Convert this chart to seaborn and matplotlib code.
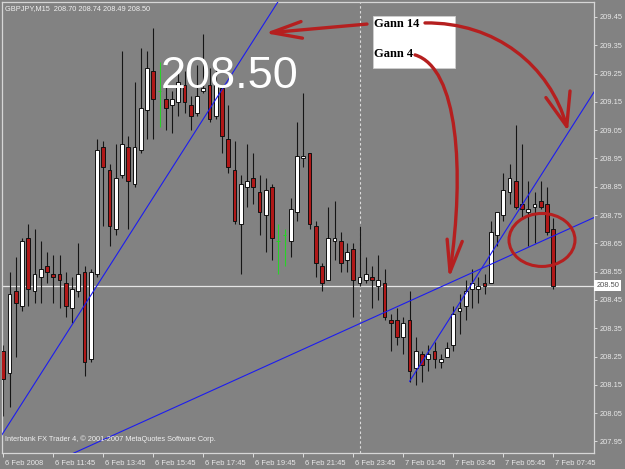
import numpy as np
import pandas as pd
import matplotlib
matplotlib.use("Agg")
import matplotlib.pyplot as plt
import seaborn as sns
from matplotlib.patches import Rectangle, Ellipse, FancyArrowPatch
from matplotlib.path import Path
from matplotlib.transforms import ScaledTranslation, blended_transform_factory

# ---------------- data ----------------
opens = [208.27, 208.19, 208.48, 208.43, 208.67, 208.48, 208.53, 208.57, 208.54, 208.54,
         208.51, 208.42, 208.48, 208.55, 208.24, 208.54, 208.99, 208.91, 208.70, 208.89,
         208.99, 208.86, 208.98, 209.12, 209.26, 209.19, 209.16, 209.14, 209.15, 209.21,
         209.14, 209.11, 209.19, 209.21, 209.10, 209.20, 209.02, 208.91, 208.72, 208.85,
         208.88, 208.83, 208.75, 208.85, 208.66, 208.68, 208.66, 208.76, 208.95, 208.97,
         208.71, 208.57, 208.52, 208.66, 208.66, 208.59, 208.63, 208.51, 208.52, 208.53,
         208.50, 208.51, 208.38, 208.38, 208.32, 208.38, 208.21, 208.26, 208.24, 208.27,
         208.23, 208.25, 208.29, 208.41, 208.43, 208.49, 208.49, 208.51, 208.51, 208.68,
         208.75, 208.83, 208.87, 208.79, 208.76, 208.78, 208.80, 208.79, 208.70]
highs = [208.29, 208.55, 208.60, 208.67, 208.72, 208.70, 208.66, 208.62, 208.61, 208.61,
         208.55, 208.53, 208.65, 208.57, 208.56, 209.02, 209.01, 208.93, 209.00, 209.33,
         209.03, 209.22, 209.34, 209.33, 209.41, 209.29, 209.21, 209.19, 209.26, 209.26,
         209.17, 209.28, 209.39, 209.27, 209.27, 209.21, 209.14, 209.01, 208.89, 209.00,
         208.97, 208.89, 208.88, 208.86, 208.72, 208.70, 208.81, 209.08, 209.18, 208.97,
         208.73, 208.58, 208.78, 208.80, 208.69, 208.65, 208.65, 208.71, 208.60, 208.57,
         208.61, 208.56, 208.40, 208.42, 208.39, 208.48, 208.32, 208.27, 208.29, 208.30,
         208.26, 208.30, 208.43, 208.47, 208.52, 208.56, 208.53, 208.54, 208.73, 208.76,
         208.90, 208.93, 209.07, 209.00, 208.87, 208.83, 208.87, 208.85, 208.74]
lows = [208.04, 208.07, 208.25, 208.41, 208.43, 208.44, 208.44, 208.51, 208.44, 208.42,
        208.39, 208.37, 208.46, 208.18, 208.23, 208.53, 208.71, 208.64, 208.68, 208.88,
        208.70, 208.85, 208.97, 209.02, 209.02, 209.06, 209.05, 209.04, 209.10, 209.11,
        209.05, 209.10, 209.18, 209.08, 209.09, 208.97, 208.90, 208.72, 208.54, 208.78,
        208.79, 208.68, 208.62, 208.59, 208.54, 208.57, 208.60, 208.73, 208.92, 208.70,
        208.53, 208.48, 208.52, 208.59, 208.55, 208.55, 208.39, 208.50, 208.51, 208.42,
        208.45, 208.38, 208.27, 208.29, 208.26, 208.16, 208.15, 208.16, 208.20, 208.21,
        208.21, 208.25, 208.27, 208.33, 208.38, 208.42, 208.44, 208.47, 208.51, 208.64,
        208.73, 208.79, 208.77, 208.74, 208.64, 208.65, 208.77, 208.68, 208.49]
closes = [208.17, 208.47, 208.44, 208.66, 208.49, 208.54, 208.56, 208.55, 208.53, 208.52,
          208.43, 208.49, 208.54, 208.23, 208.55, 208.98, 208.92, 208.71, 208.88, 209.00,
          208.87, 208.99, 209.13, 209.27, 209.16, 209.19, 209.13, 209.16, 209.22, 209.15,
          209.10, 209.17, 209.20, 209.09, 209.21, 209.03, 208.92, 208.73, 208.86, 208.87,
          208.85, 208.76, 208.84, 208.67, 208.66, 208.68, 208.77, 208.96, 208.96, 208.72,
          208.58, 208.51, 208.67, 208.67, 208.58, 208.62, 208.52, 208.53, 208.54, 208.52,
          208.52, 208.39, 208.37, 208.32, 208.37, 208.20, 208.27, 208.22, 208.26, 208.24,
          208.24, 208.28, 208.40, 208.42, 208.48, 208.51, 208.50, 208.50, 208.69, 208.76,
          208.84, 208.88, 208.78, 208.77, 208.77, 208.79, 208.78, 208.69, 208.50]

x_tick_bars = [0, 8, 16, 24, 32, 40, 48, 56, 64, 72, 80, 88]
x_tick_labels = ["6 Feb 2008", "6 Feb 11:45", "6 Feb 13:45", "6 Feb 15:45", "6 Feb 17:45",
                 "6 Feb 19:45", "6 Feb 21:45", "6 Feb 23:45", "7 Feb 01:45", "7 Feb 03:45",
                 "7 Feb 05:45", "7 Feb 07:45"]
y_ticks = [207.95, 208.05, 208.15, 208.25, 208.35, 208.45, 208.55, 208.65,
           208.75, 208.85, 208.95, 209.05, 209.15, 209.25, 209.35, 209.45]

symbol_label = "GBPJPY,M15"
bid_price = 208.50
day_separator_bar = 57

gann_anchor_bars = [0, 47, 65]
gann_anchor_prices = [207.981, 208.266, 208.162]
gann_slopes = [0.03465, 0.0100, 0.03465]
gann_start_bars = [-1.0, -1.0, 65]

big_label = "208.50"
box_texts = ["Gann 14", "Gann 4"]
footer = "Interbank FX Trader 4, \u00a9 2001-2007 MetaQuotes Software Corp."

# ---------------- style ----------------
BG = "#828282"
LIGHT = "#e8e8e8"
RED_BODY = "#b01818"
RED_INK = "#b51f1f"
BLUE = "#1c1cf0"
GREEN = "#28d228"

sns.set_theme(style="dark", rc={"axes.facecolor": BG, "figure.facecolor": BG,
                                "axes.grid": False})
plt.rcParams["font.family"] = ["Liberation Sans", "DejaVu Sans"]

W, H = 625, 469
fig = plt.figure(figsize=(W / 100, H / 100), dpi=100)
ax = fig.add_axes([2 / W, 16 / H, 592 / W, 451 / H])
ax.set_facecolor(BG)

xmin, xmax = -0.208, 94.51
ymin, ymax = 207.909, 209.503

df = pd.DataFrame({"bar": np.arange(len(opens)), "open": opens, "high": highs,
                   "low": lows, "close": closes})
doji = df[df["open"] == df["close"]]
real = df[df["open"] != df["close"]]
bull = real[real["close"] > real["open"]]
bear = real[real["close"] < real["open"]]

# wicks
ax.vlines(real["bar"], real["low"], real["high"], color="#151515", lw=0.8, zorder=2)
# bodies
min_h = 0.007
bw = 0.6
ax.bar(bull["bar"], np.maximum(bull["close"] - bull["open"], min_h), bottom=bull["open"],
       width=bw, color="white", edgecolor="#111111", linewidth=0.7, zorder=3)
ax.bar(bear["bar"], np.maximum(bear["open"] - bear["close"], min_h), bottom=bear["close"],
       width=bw, color=RED_BODY, edgecolor="#111111", linewidth=0.7, zorder=3)
# doji candles
ax.vlines(doji["bar"], doji["low"], doji["high"], color=GREEN, lw=0.8, zorder=3)
ax.hlines(doji["open"], doji["bar"] - 0.3, doji["bar"] + 0.3, color=GREEN, lw=0.8, zorder=3)

# Gann lines via seaborn
for a_bar, a_price, slope, start in zip(gann_anchor_bars, gann_anchor_prices,
                                         gann_slopes, gann_start_bars):
    xs = np.array([start, xmax + 1])
    line_df = pd.DataFrame({"x": xs, "y": a_price + slope * (xs - a_bar)})
    sns.lineplot(data=line_df, x="x", y="y", ax=ax, color=BLUE, lw=0.8, zorder=4,
                 sort=False, estimator=None)

# bid line and day separator
ax.axhline(bid_price, color="#e6e6e6", lw=0.9, zorder=1)
ax.axvline(day_separator_bar, color="#dcdcdc", lw=0.8, ls=(0, (2.2, 2.2)), zorder=1)

ax.set_xlim(xmin, xmax)
ax.set_ylim(ymin, ymax)
ax.set_xlabel("")
ax.set_ylabel("")

# axes / ticks
for s in ax.spines.values():
    s.set_color("#d6d6d6")
    s.set_linewidth(0.9)
ax.yaxis.tick_right()
ax.set_yticks(y_ticks)
ax.set_yticklabels([f"{v:.2f}" for v in y_ticks])
ax.set_xticks(x_tick_bars)
ax.set_xticklabels(x_tick_labels, ha="left")
ax.tick_params(axis="both", which="major", direction="out", length=2.5, width=0.7,
               color="#dcdcdc", labelcolor=LIGHT, labelsize=5.4, pad=1.5)
ax.tick_params(axis="x", bottom=True, length=3, pad=2)
ax.tick_params(axis="y", right=True, left=False)
off = ScaledTranslation(1.5 / 100, 0, fig.dpi_scale_trans)
for lab in ax.get_xticklabels():
    lab.set_transform(lab.get_transform() + off)

# bid price box on the axis
btrans = blended_transform_factory(ax.transAxes, ax.transData)
ax.text(1.004, bid_price, f"{bid_price:.2f}", transform=btrans, ha="left", va="center",
        fontsize=5.4, color="#505050", zorder=6,
        bbox=dict(boxstyle="square,pad=0.25", fc="white", ec="none"), clip_on=False)

# header / footer
fig.text(5 / W, 1 - 8.5 / H,
         f"{symbol_label}  {opens[-1]:.2f} {highs[-1]:.2f} {lows[-1]:.2f} {closes[-1]:.2f}",
         fontsize=5.3, color="#f0f0f0", va="center", ha="left")
fig.text(5 / W, 1 - 439 / H, footer, fontsize=5.3, color="#f0f0f0", va="center", ha="left")

# big price label
ax.text(25.2, 209.198, big_label, fontsize=32.5, color="white", va="baseline", ha="left",
        zorder=7, family=["Liberation Sans", "DejaVu Sans"])

# white annotation box
ax.add_patch(Rectangle((59.2, 209.2687), 72.32 - 59.2, 209.4535 - 209.2687,
                       facecolor="white", edgecolor="#cfcfcf", lw=0.6, zorder=7))
ax.text(59.35, 209.425, box_texts[0], fontsize=9, fontweight="bold", color="black",
        va="center", ha="left", family=["Liberation Serif", "DejaVu Serif"], zorder=8)
ax.text(59.35, 209.319, box_texts[1], fontsize=9, fontweight="bold", color="black",
        va="center", ha="left", family=["Liberation Serif", "DejaVu Serif"], zorder=8)

# hand drawn red arrows
def add_arrow(verts, codes, hl, hw):
    p = Path(verts, codes)
    arr = FancyArrowPatch(path=p, arrowstyle=f"->,head_length={hl},head_width={hw}",
                          color=RED_INK, lw=2.4, mutation_scale=10, zorder=9,
                          capstyle="round", joinstyle="round")
    ax.add_patch(arr)

add_arrow([(58.19, 209.425), (41.87, 209.393)], [Path.MOVETO, Path.LINETO], 2.2, 0.6)
add_arrow([(67.47, 209.429), (78.67, 209.432), (87.47, 209.280), (90.35, 209.047)],
          [Path.MOVETO, Path.CURVE4, Path.CURVE4, Path.CURVE4], 2.4, 0.9)
add_arrow([(65.87, 209.316), (72.75, 209.270), (73.87, 208.909), (71.31, 208.524)],
          [Path.MOVETO, Path.CURVE4, Path.CURVE4, Path.CURVE4], 2.3, 0.55)
ax.add_patch(Ellipse((86.19, 208.662), 10.56, 0.1873, facecolor="none",
                     edgecolor=RED_INK, lw=2.2, zorder=9))

fig.savefig("out.png", dpi=100, facecolor=fig.get_facecolor())
